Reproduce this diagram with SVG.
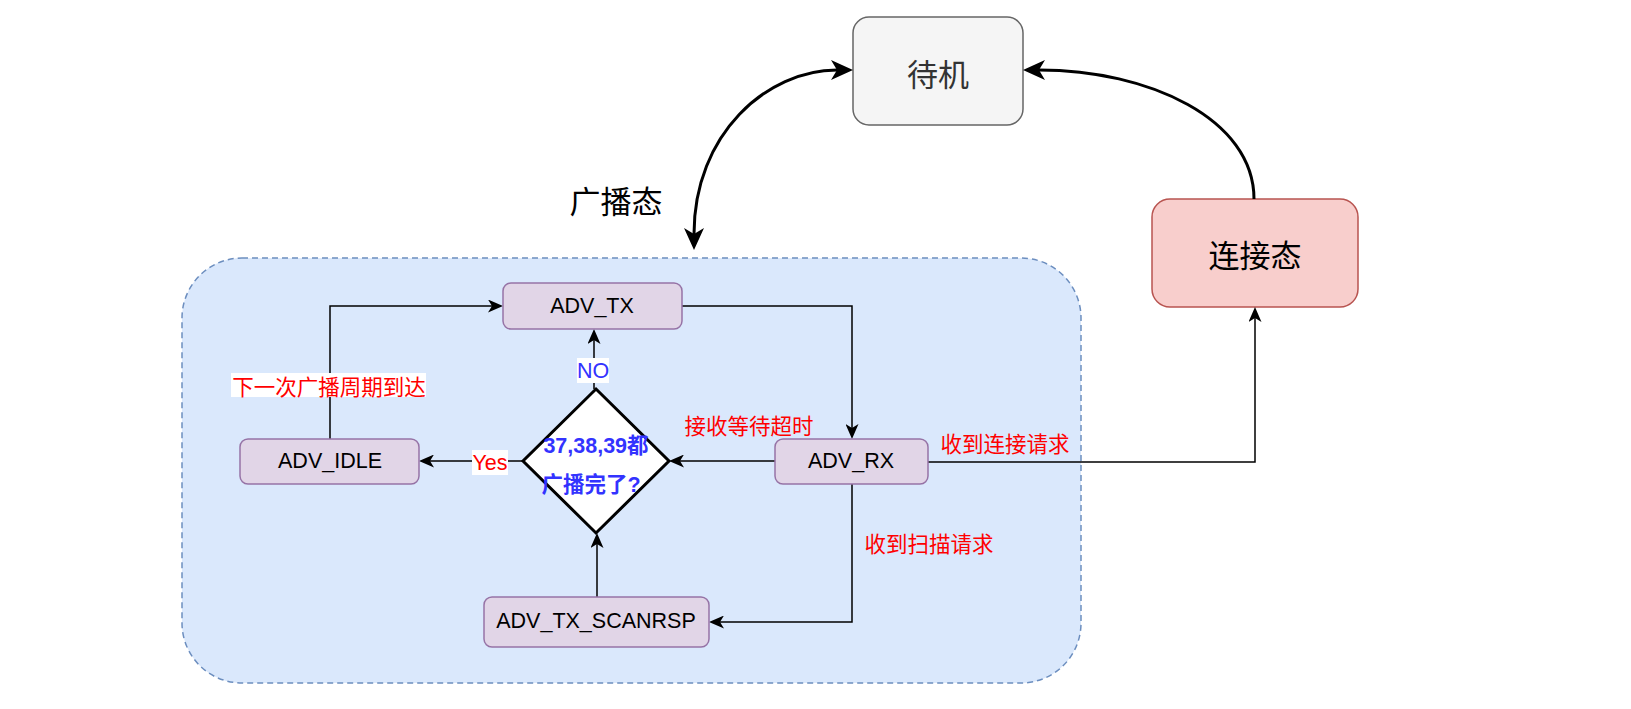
<svg xmlns="http://www.w3.org/2000/svg" width="1631" height="709" viewBox="0 0 1631 709">
<style>
.box{fill:#e1d5e7;stroke:#9673a6;stroke-width:1.5}
.lt{font-family:"Liberation Sans",Arial,"Noto Sans CJK SC",sans-serif;font-size:21.5px;fill:#000;text-anchor:middle;dominant-baseline:central}
.cj{font-family:"Noto Sans CJK SC","Liberation Sans",sans-serif;text-anchor:middle;dominant-baseline:central}
.red{font-size:21.5px;fill:#ff0000}
.big{font-size:31px}
.edge{fill:none;stroke:#000;stroke-width:1.5}
.thick{fill:none;stroke:#000;stroke-width:3}
</style>
<defs>
<marker id="a" markerUnits="userSpaceOnUse" viewBox="0 0 15 13" markerWidth="15" markerHeight="13" refX="4" refY="6.5" orient="auto">
<path d="M0,0 L15,6.5 L0,13 L4,6.5 z" fill="#000"/>
</marker>
<marker id="b" markerUnits="userSpaceOnUse" viewBox="0 0 22 20" markerWidth="22" markerHeight="20" refX="6" refY="10" orient="auto-start-reverse">
<path d="M0,0 L22,10 L0,20 L6,10 z" fill="#000"/>
</marker>
</defs>
<rect width="1631" height="709" fill="#ffffff"/>

<g id="adv-state">
<rect x="182" y="258" width="899" height="425" rx="60" fill="#dae8fc" stroke="#6c8ebf" stroke-width="1.5" stroke-dasharray="6 4"/>
</g>
<g id="label-adv">
<text class="cj big" x="616" y="199" fill="#000">广播态</text>
</g>

<g id="standby">
<rect x="853" y="17" width="170" height="108" rx="16" fill="#f5f5f5" stroke="#666666" stroke-width="1.5"/>
<text class="cj big" x="938" y="72" fill="#333333">待机</text>
</g>
<g id="connected">
<rect x="1152" y="199" width="206" height="108" rx="18" fill="#f8cecc" stroke="#b85450" stroke-width="1.5"/>
<text class="cj big" x="1255" y="253" fill="#000">连接态</text>
</g>

<g id="connectors">
<path class="edge" d="M682,306 H852 V428" marker-end="url(#a)"/>
<path class="edge" d="M775,461 H680" marker-end="url(#a)"/>
<path class="edge" d="M594,389 V340" marker-end="url(#a)"/>
<path class="edge" d="M523,461 H430" marker-end="url(#a)"/>
<path class="edge" d="M330,439 V306 H492" marker-end="url(#a)"/>
<path class="edge" d="M852,484 V622 H720" marker-end="url(#a)"/>
<path class="edge" d="M597,597 V544" marker-end="url(#a)"/>
<path class="edge" d="M928,462 H1255 V318" marker-end="url(#a)"/>
<path class="thick" d="M1254,199 C1254,119 1149,70 1039,70" marker-end="url(#b)"/>
<path class="thick" d="M694,234 C694,134 767,70 837,70" marker-start="url(#b)" marker-end="url(#b)"/>
</g>

<g id="edge-labels">
<rect x="577" y="358" width="32" height="25" fill="#ffffff"/>
<text class="lt" x="593" y="371" style="fill:#3333ff">NO</text>
<rect x="472" y="450" width="36" height="25" fill="#ffffff"/>
<text class="lt" x="490" y="463" style="fill:#ff0000">Yes</text>
<rect x="231" y="373" width="195" height="24" fill="#ffffff"/>
<text class="cj red" x="329" y="385">下一次广播周期到达</text>
<text class="cj red" x="749" y="424">接收等待超时</text>
<text class="cj red" x="1005" y="442">收到连接请求</text>
<text class="cj red" x="929" y="542">收到扫描请求</text>
</g>

<g id="adv-tx">
<rect class="box" x="503" y="283" width="179" height="46" rx="8"/>
<text class="lt" x="592" y="306">ADV_TX</text>
</g>
<g id="adv-rx">
<rect class="box" x="775" y="439" width="153" height="45" rx="8"/>
<text class="lt" x="851" y="461">ADV_RX</text>
</g>
<g id="adv-idle">
<rect class="box" x="240" y="439" width="179" height="45" rx="8"/>
<text class="lt" x="330" y="461">ADV_IDLE</text>
</g>
<g id="adv-tx-scanrsp">
<rect class="box" x="484" y="597" width="225" height="50" rx="8"/>
<text class="lt" x="596" y="621">ADV_TX_SCANRSP</text>
</g>
<g id="decision">
<polygon points="596,389 669,461 596,533 523,461" fill="#ffffff" stroke="#000" stroke-width="3"/>
<text class="lt" x="596" y="446" style="font-weight:bold;fill:#3333ff;font-size:21.5px">37,38,39都</text>
<text class="lt" x="591" y="485" style="font-weight:bold;fill:#3333ff;font-size:21.5px">广播完了?</text>
</g>
</svg>
